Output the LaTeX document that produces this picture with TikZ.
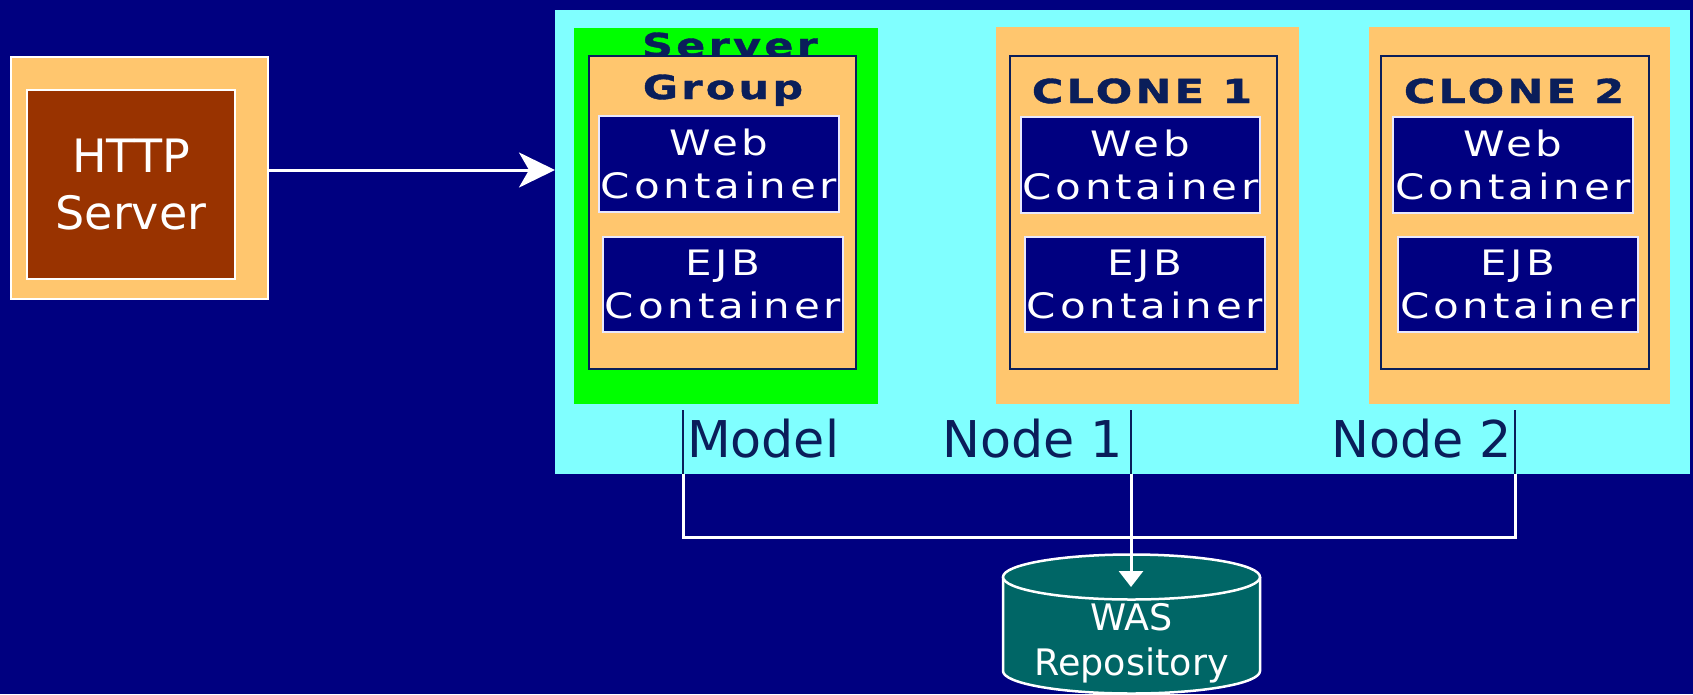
\documentclass[tikz,border=0pt]{standalone}
\usepackage{fontspec}
\setmainfont{DejaVu Sans}
\newfontfamily\boxfont[FakeStretch=1.2,LetterSpace=11]{DejaVu Sans}
\newfontfamily\headfont[FakeStretch=1.3,LetterSpace=10,FakeBold=1.2]{DejaVu Sans Bold}
\usetikzlibrary{arrows.meta}

\definecolor{bgnavy}{HTML}{000080}
\definecolor{panelcyan}{HTML}{80FFFF}
\definecolor{peach}{HTML}{FFC66E}
\definecolor{brick}{HTML}{993300}
\definecolor{brightgreen}{HTML}{00FF00}
\definecolor{inkblue}{HTML}{0A1E5A}
\definecolor{repoteal}{HTML}{006666}
\definecolor{paleedge}{HTML}{E8E8FF}

\begin{document}
\begin{tikzpicture}[x=1pt,y=-1pt,
  every node/.style={inner sep=0pt,outer sep=0pt},
  plate/.style={fill=#1,draw=none},
  framed/.style={fill=peach,draw=inkblue,line width=1.5pt},
  container/.style={fill=bgnavy,draw=paleedge,line width=1.5pt,text=white,
    align=center,font=\boxfont\fontsize{35}{43}\selectfont,
    minimum width=240pt,minimum height=96pt},
  heading/.style={text=inkblue,anchor=base,font=\headfont\fontsize{33}{40}\selectfont},
  tag/.style={text=inkblue,font=\fontsize{50.7}{60}\selectfont},
  bar/.style={draw=inkblue,line width=2.5pt},
  wire/.style={draw=white,line width=3pt},
]
\useasboundingbox (0,0) rectangle (1693,694);
\fill[bgnavy] (0,0) rectangle (1693,694);

% HTTP server
\node[fill=peach,draw=white,line width=1.5pt,minimum width=257pt,minimum height=242pt] (http) at (139.5,178) {};
\node[fill=brick,draw=white,line width=2pt,minimum width=208pt,minimum height=189pt,
  text=white,align=center,font=\fontsize{46}{57}\selectfont] (httpin) at (131,184.5) {HTTP\\Server};

% cluster panel
\node[plate=panelcyan,minimum width=1135pt,minimum height=464pt] (panel) at (1122.5,242) {};

% server group (model)
\node[plate=brightgreen,minimum width=304pt,minimum height=376pt] (grp) at (726,216) {};
\node[heading] (servertxt) at (730,57) {Server};
\node[framed,minimum width=267pt,minimum height=313pt] (grpbox) at (722.5,212.5) {};
\node[heading] (grouptxt) at (723,99) {Group};
\node[container] (web0) at (719,164) {Web\\Container};
\node[container,minimum height=95pt] (ejb0) at (723,284.5) {EJB\\Container};

% clone 1
\node[plate=peach,minimum width=303pt,minimum height=377pt] (c1) at (1147.5,215.5) {};
\node[framed,minimum width=267pt,minimum height=313pt] (c1box) at (1143.5,212.5) {};
\node[heading] (c1title) at (1142,103) {CLONE 1};
\node[container,minimum width=239pt] (web1) at (1140.5,165) {Web\\Container};
\node[container,minimum height=95pt] (ejb1) at (1145,284.5) {EJB\\Container};

% clone 2
\node[plate=peach,minimum width=301pt,minimum height=377pt] (c2) at (1519.5,215.5) {};
\node[framed,minimum width=268pt,minimum height=313pt] (c2box) at (1515,212.5) {};
\node[heading] (c2title) at (1514,103) {CLONE 2};
\node[container] (web2) at (1513,165) {Web\\Container};
\node[container,minimum height=95pt] (ejb2) at (1518,284.5) {EJB\\Container};

% node labels
\node[tag,anchor=base west] (model) at (687,457) {Model};
\node[tag,anchor=base east] (node1) at (1123,457) {Node 1};
\node[tag,anchor=base east] (node2) at (1512,457) {Node 2};

% repository cylinder
\fill[repoteal] (1003,577) -- (1003,671)
  arc[start angle=180,end angle=0,x radius=128.5,y radius=22.5] -- (1260,577) -- cycle;
\draw[white,line width=2.5pt] (1003,577) -- (1003,671)
  arc[start angle=180,end angle=0,x radius=128.5,y radius=22.5] -- (1260,577);
\draw[white,line width=2.5pt,fill=repoteal] (1131.5,577) ellipse[x radius=128.5,y radius=22.5];
\node[text=white,align=center,font=\fontsize{36.5}{45}\selectfont] (repo) at (1131.5,643) {WAS\\Repository};

% connectors
\coordinate (arrowy) at (0,170);
\draw[white,line width=3pt,-{Stealth[length=36pt,width=35pt,inset=10pt]}]
  (http.east |- arrowy) -- (panel.west |- arrowy);

\coordinate (mtop) at (683,410);
\coordinate (n1top) at (1131,410);
\coordinate (n2top) at (1515,410);
\coordinate (mbot) at (683,537);
\coordinate (n1bot) at (1131,537);
\coordinate (n2bot) at (1515,537);
\coordinate (repohit) at (1131,587);

\draw[bar] (mtop) -- (mtop |- panel.south);
\draw[bar] (n1top) -- (n1top |- panel.south);
\draw[bar] (n2top) -- (n2top |- panel.south);
\draw[wire] (mtop |- panel.south) -- (mbot) -- (n2bot) -- (n2top |- panel.south);
\draw[wire,-{Triangle[length=16pt,width=24pt]}] (n1top |- panel.south) -- (repohit);
\end{tikzpicture}
\end{document}
